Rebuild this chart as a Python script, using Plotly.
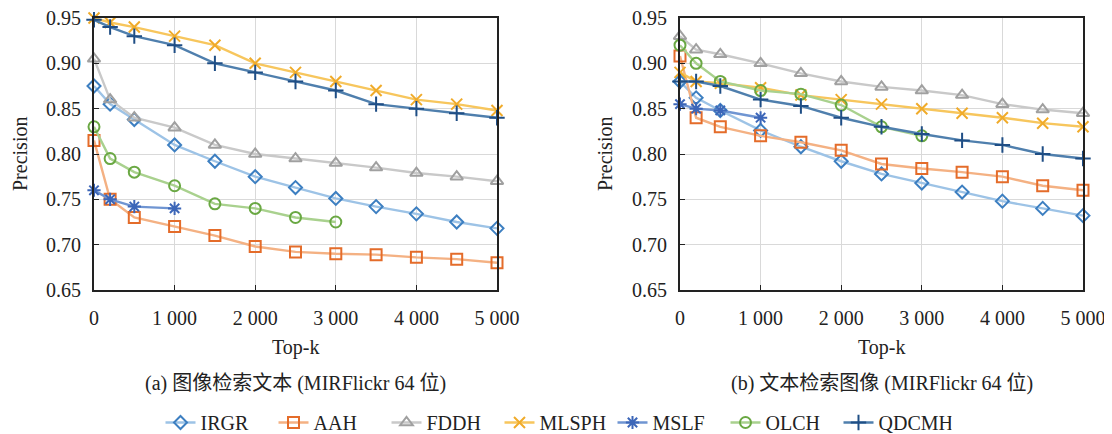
import plotly.graph_objects as go

x_full = [0, 200, 500, 1000, 1500, 2000, 2500, 3000, 3500, 4000, 4500, 5000]
x_mslf = [0, 200, 500, 1000]
x_olch = [0, 200, 500, 1000, 1500, 2000, 2500, 3000]

methods = ["IRGR", "AAH", "FDDH", "MLSPH", "MSLF", "OLCH", "QDCMH"]

# (a) image -> text
a_irgr = [0.875, 0.855, 0.838, 0.810, 0.792, 0.775, 0.763, 0.751, 0.742, 0.734, 0.725, 0.718]
a_aah = [0.815, 0.750, 0.730, 0.720, 0.710, 0.698, 0.692, 0.690, 0.689, 0.686, 0.684, 0.680]
a_fddh = [0.905, 0.860, 0.840, 0.829, 0.810, 0.800, 0.795, 0.790, 0.785, 0.779, 0.775, 0.770]
a_mlsph = [0.950, 0.945, 0.940, 0.930, 0.920, 0.900, 0.890, 0.880, 0.870, 0.860, 0.855, 0.848]
a_mslf = [0.760, 0.750, 0.742, 0.740]
a_olch = [0.830, 0.795, 0.780, 0.765, 0.745, 0.740, 0.730, 0.725]
a_qdcmh = [0.948, 0.940, 0.930, 0.920, 0.900, 0.890, 0.880, 0.870, 0.855, 0.850, 0.845, 0.840]

# (b) text -> image
b_irgr = [0.880, 0.862, 0.848, 0.826, 0.808, 0.792, 0.778, 0.768, 0.758, 0.748, 0.740, 0.732]
b_aah = [0.908, 0.840, 0.830, 0.820, 0.813, 0.804, 0.789, 0.784, 0.780, 0.775, 0.765, 0.760]
b_fddh = [0.930, 0.915, 0.910, 0.900, 0.889, 0.880, 0.874, 0.870, 0.865, 0.855, 0.849, 0.845]
b_mlsph = [0.890, 0.880, 0.878, 0.873, 0.865, 0.860, 0.855, 0.850, 0.845, 0.840, 0.834, 0.830]
b_mslf = [0.855, 0.850, 0.848, 0.840]
b_olch = [0.920, 0.900, 0.880, 0.870, 0.866, 0.854, 0.830, 0.820]
b_qdcmh = [0.880, 0.880, 0.875, 0.860, 0.853, 0.840, 0.830, 0.822, 0.815, 0.810, 0.800, 0.795]

x_tickvals = [0, 1000, 2000, 3000, 4000, 5000]
x_ticktext = ["0", "1 000", "2 000", "3 000", "4 000", "5 000"]
y_tickvals = [0.65, 0.70, 0.75, 0.80, 0.85, 0.90, 0.95]
y_ticktext = ["0.65", "0.70", "0.75", "0.80", "0.85", "0.90", "0.95"]

titles = ["(a) 图像检索文本 (MIRFlickr 64 位)", "(b) 文本检索图像 (MIRFlickr 64 位)"]
x_title = "Top-k"
y_title = "Precision"

styles = {
    "IRGR": dict(line="#9dc3e6", marker="#3d7fc1", symbol="diamond-open", size=10),
    "AAH": dict(line="#f4b183", marker="#e46c2a", symbol="square-open", size=11),
    "FDDH": dict(line="#c9c9c9", marker="#a0a0a0", symbol="triangle-up-open", size=11),
    "MLSPH": dict(line="#f7c65d", marker="#f0ab2a", symbol="x-thin-open", size=11),
    "MSLF": dict(line="#6f95d2", marker="#3c66b8", symbol="asterisk-open", size=11),
    "OLCH": dict(line="#a9d18e", marker="#6aa843", symbol="circle-open", size=11),
    "QDCMH": dict(line="#4f7fad", marker="#1f4e85", symbol="cross-thin-open", size=11),
}

series_a = {
    "IRGR": (x_full, a_irgr), "AAH": (x_full, a_aah), "FDDH": (x_full, a_fddh),
    "MLSPH": (x_full, a_mlsph), "MSLF": (x_mslf, a_mslf), "OLCH": (x_olch, a_olch),
    "QDCMH": (x_full, a_qdcmh),
}
series_b = {
    "IRGR": (x_full, b_irgr), "AAH": (x_full, b_aah), "FDDH": (x_full, b_fddh),
    "MLSPH": (x_full, b_mlsph), "MSLF": (x_mslf, b_mslf), "OLCH": (x_olch, b_olch),
    "QDCMH": (x_full, b_qdcmh),
}

fig = go.Figure()
for idx, (series, xa, ya) in enumerate([(series_a, "x", "y"), (series_b, "x2", "y2")]):
    for m in methods:
        xs, ys = series[m]
        st = styles[m]
        fig.add_trace(go.Scatter(
            x=xs, y=ys, name=m, mode="lines+markers", xaxis=xa, yaxis=ya,
            line=dict(color=st["line"], width=2.4),
            marker=dict(symbol=st["symbol"], size=st["size"],
                        color=st["marker"], line=dict(width=2, color=st["marker"])),
            cliponaxis=False, showlegend=(idx == 0),
        ))

SERIF = "Liberation Serif"
CJK = "Liberation Serif, Noto Sans CJK SC"
TXT = "#222"
FS = 20

# the page body has an 8px margin; figure coordinates are window coordinates minus 8
W, H, OFF = 1104, 434, 8


def px_x(v):
    return (v - OFF) / W


def px_y(v):
    return 1 - (v - OFF) / H


ax_common = dict(
    range=[0, 5000], tickvals=x_tickvals, ticktext=x_ticktext, automargin=False,
    showgrid=True, gridcolor="#d9d9d9", gridwidth=1.2,
    showline=True, linecolor="#222", linewidth=2, mirror=True,
    ticks="inside", ticklen=5, tickcolor="#222", zeroline=False,
    ticklabelstandoff=9, ticklabeloverflow="allow",
    tickfont=dict(family=SERIF, size=FS, color=TXT),
)
ay_common = dict(
    range=[0.65, 0.95], tickvals=y_tickvals, ticktext=y_ticktext, automargin=False,
    showgrid=True, gridcolor="#d9d9d9", gridwidth=1.2,
    showline=True, linecolor="#222", linewidth=2, mirror=True,
    ticks="inside", ticklen=5, tickcolor="#222", zeroline=False,
    ticklabelstandoff=7, ticklabeloverflow="allow",
    tickfont=dict(family=SERIF, size=FS, color=TXT),
)

dom_a = [px_x(94), px_x(497)]
dom_b = [px_x(680), px_x(1083)]
dom_y = [px_y(290), px_y(18)]

annotations = []
for dom, t in zip([dom_a, dom_b], titles):
    cx = (dom[0] + dom[1]) / 2
    annotations.append(dict(text=t, x=cx, y=px_y(383), xref="paper", yref="paper",
                            xanchor="center", yanchor="middle",
                            showarrow=False, font=dict(family=CJK, size=FS, color=TXT)))
    annotations.append(dict(text=x_title, x=cx, y=px_y(347), xref="paper", yref="paper",
                            xanchor="center", yanchor="middle",
                            showarrow=False, font=dict(family=SERIF, size=FS, color=TXT)))
for px in [20, 605]:
    annotations.append(dict(text=y_title, x=px_x(px), y=(dom_y[0] + dom_y[1]) / 2,
                            xref="paper", yref="paper", textangle=-90,
                            xanchor="center", yanchor="middle",
                            showarrow=False, font=dict(family=SERIF, size=FS, color=TXT)))

fig.update_layout(
    width=W, height=H,
    margin=dict(l=0, r=0, t=0, b=0),
    paper_bgcolor="white", plot_bgcolor="white",
    xaxis=dict(domain=dom_a, anchor="y", **ax_common),
    yaxis=dict(domain=dom_y, anchor="x", **ay_common),
    xaxis2=dict(domain=dom_b, anchor="y2", **ax_common),
    yaxis2=dict(domain=dom_y, anchor="x2", **ay_common),
    legend=dict(orientation="h", x=px_x(556), xanchor="center", y=0, yanchor="bottom",
                font=dict(family=SERIF, size=FS, color=TXT),
                itemwidth=30, tracegroupgap=0, entrywidth=68, entrywidthmode="pixels"),
    annotations=annotations,
)

fig.write_html("out.html")
